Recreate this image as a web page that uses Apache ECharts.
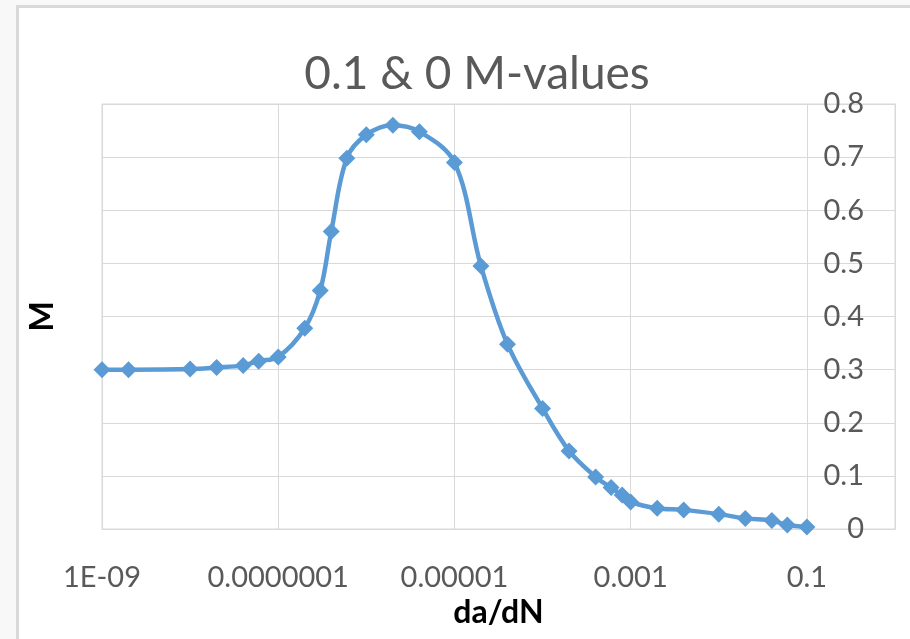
<!DOCTYPE html>
<html><head><meta charset="utf-8">
<script src="https://cdn.jsdelivr.net/npm/echarts@6/dist/echarts.min.js"></script>
<style>
html,body{margin:0;padding:0;width:910px;height:639px;overflow:hidden;background:#f8f8f8;}
#frame{position:absolute;left:16px;top:5px;width:894px;height:634px;background:#fff;border-left:3px solid #d9d9d9;border-top:3px solid #d9d9d9;box-sizing:border-box;}
#chart{position:absolute;left:0;top:0;width:910px;height:639px;}
</style></head><body>
<div id="frame"></div><div id="chart"></div>
<script>
const daDN = [1e-9, 2e-9, 1e-8, 2e-8, 4e-8, 6e-8, 1e-7, 2e-7, 3e-7, 4e-7, 6e-7, 1e-6, 2e-6, 4e-6, 1e-5, 2e-5, 4e-5, 1e-4, 2e-4, 4e-4, 6e-4, 8e-4, 1e-3, 2e-3, 4e-3, 1e-2, 2e-2, 4e-2, 6e-2, 1e-1];
const mValues = [0.300, 0.300, 0.301, 0.304, 0.308, 0.316, 0.324, 0.378, 0.449, 0.560, 0.698, 0.742, 0.760, 0.748, 0.690, 0.495, 0.348, 0.227, 0.147, 0.098, 0.078, 0.064, 0.051, 0.039, 0.036, 0.028, 0.020, 0.016, 0.0075, 0.004];
const xTickExponents = [-9, -7, -5, -3, -1];
const xTickLabels = ['1E-09', '0.0000001', '0.00001', '0.001', '0.1'];
const yTickLabels = ['0', '0.1', '0.2', '0.3', '0.4', '0.5', '0.6', '0.7', '0.8'];

const seriesData = daDN.map((x, i) => [x, mValues[i]]);
const FONT = 'Lato';

const chart = echarts.init(document.getElementById('chart'), null, {renderer: 'canvas'});
chart.setOption({
  backgroundColor: 'transparent',
  animation: false,
  title: {
    text: '0.1 & 0 M-values',
    left: 472, top: 46, textAlign: 'center',
    textStyle: {fontFamily: FONT, fontSize: 46, fontWeight: 'normal', color: '#595959'}
  },
  grid: {left: 102, right: 15, top: 104, bottom: 110, show: true, borderColor: '#d9d9d9', borderWidth: 1},
  xAxis: {
    type: 'log', logBase: 10, min: 1e-9, max: 1, interval: 2,
    axisLine: {show: true, lineStyle: {color: '#d9d9d9', width: 1}},
    axisTick: {show: false},
    splitLine: {show: true, lineStyle: {color: '#d9d9d9', width: 1}},
    axisLabel: {
      margin: 34, fontFamily: FONT, fontSize: 29, color: '#595959',
      formatter: function (v) {
        const e = Math.round(Math.log10(v));
        const idx = xTickExponents.indexOf(e);
        return idx >= 0 ? xTickLabels[idx] : '';
      }
    },
    name: 'da/dN', nameLocation: 'middle', nameGap: 60,
    nameTextStyle: {fontFamily: FONT, fontSize: 32, fontWeight: 'bold', color: '#000'}
  },
  yAxis: [{
    type: 'value', position: 'right', min: 0, max: 0.8, interval: 0.1,
    axisLine: {show: true, lineStyle: {color: '#d9d9d9', width: 1}},
    axisTick: {show: false},
    splitLine: {show: true, lineStyle: {color: '#d9d9d9', width: 1}},
    axisLabel: {
      inside: true, margin: 31, fontFamily: FONT, fontSize: 29, color: '#595959',
      formatter: function (v) { return yTickLabels[Math.round(v * 10)]; }
    }
  }, {
    type: 'value', position: 'left', min: 0, max: 0.8,
    axisLine: {show: false}, axisTick: {show: false}, axisLabel: {show: false}, splitLine: {show: false},
    name: 'M', nameLocation: 'middle', nameGap: 43, nameRotate: 90,
    nameTextStyle: {fontFamily: FONT, fontSize: 32, fontWeight: 'bold', color: '#000'}
  }],
  series: [{
    type: 'line', yAxisIndex: 0, data: seriesData,
    smooth: 0.35,
    symbol: 'diamond', symbolSize: 17,
    lineStyle: {color: '#5B9BD5', width: 4.5},
    itemStyle: {color: '#5B9BD5'}
  }]
});
</script>
</body></html>
